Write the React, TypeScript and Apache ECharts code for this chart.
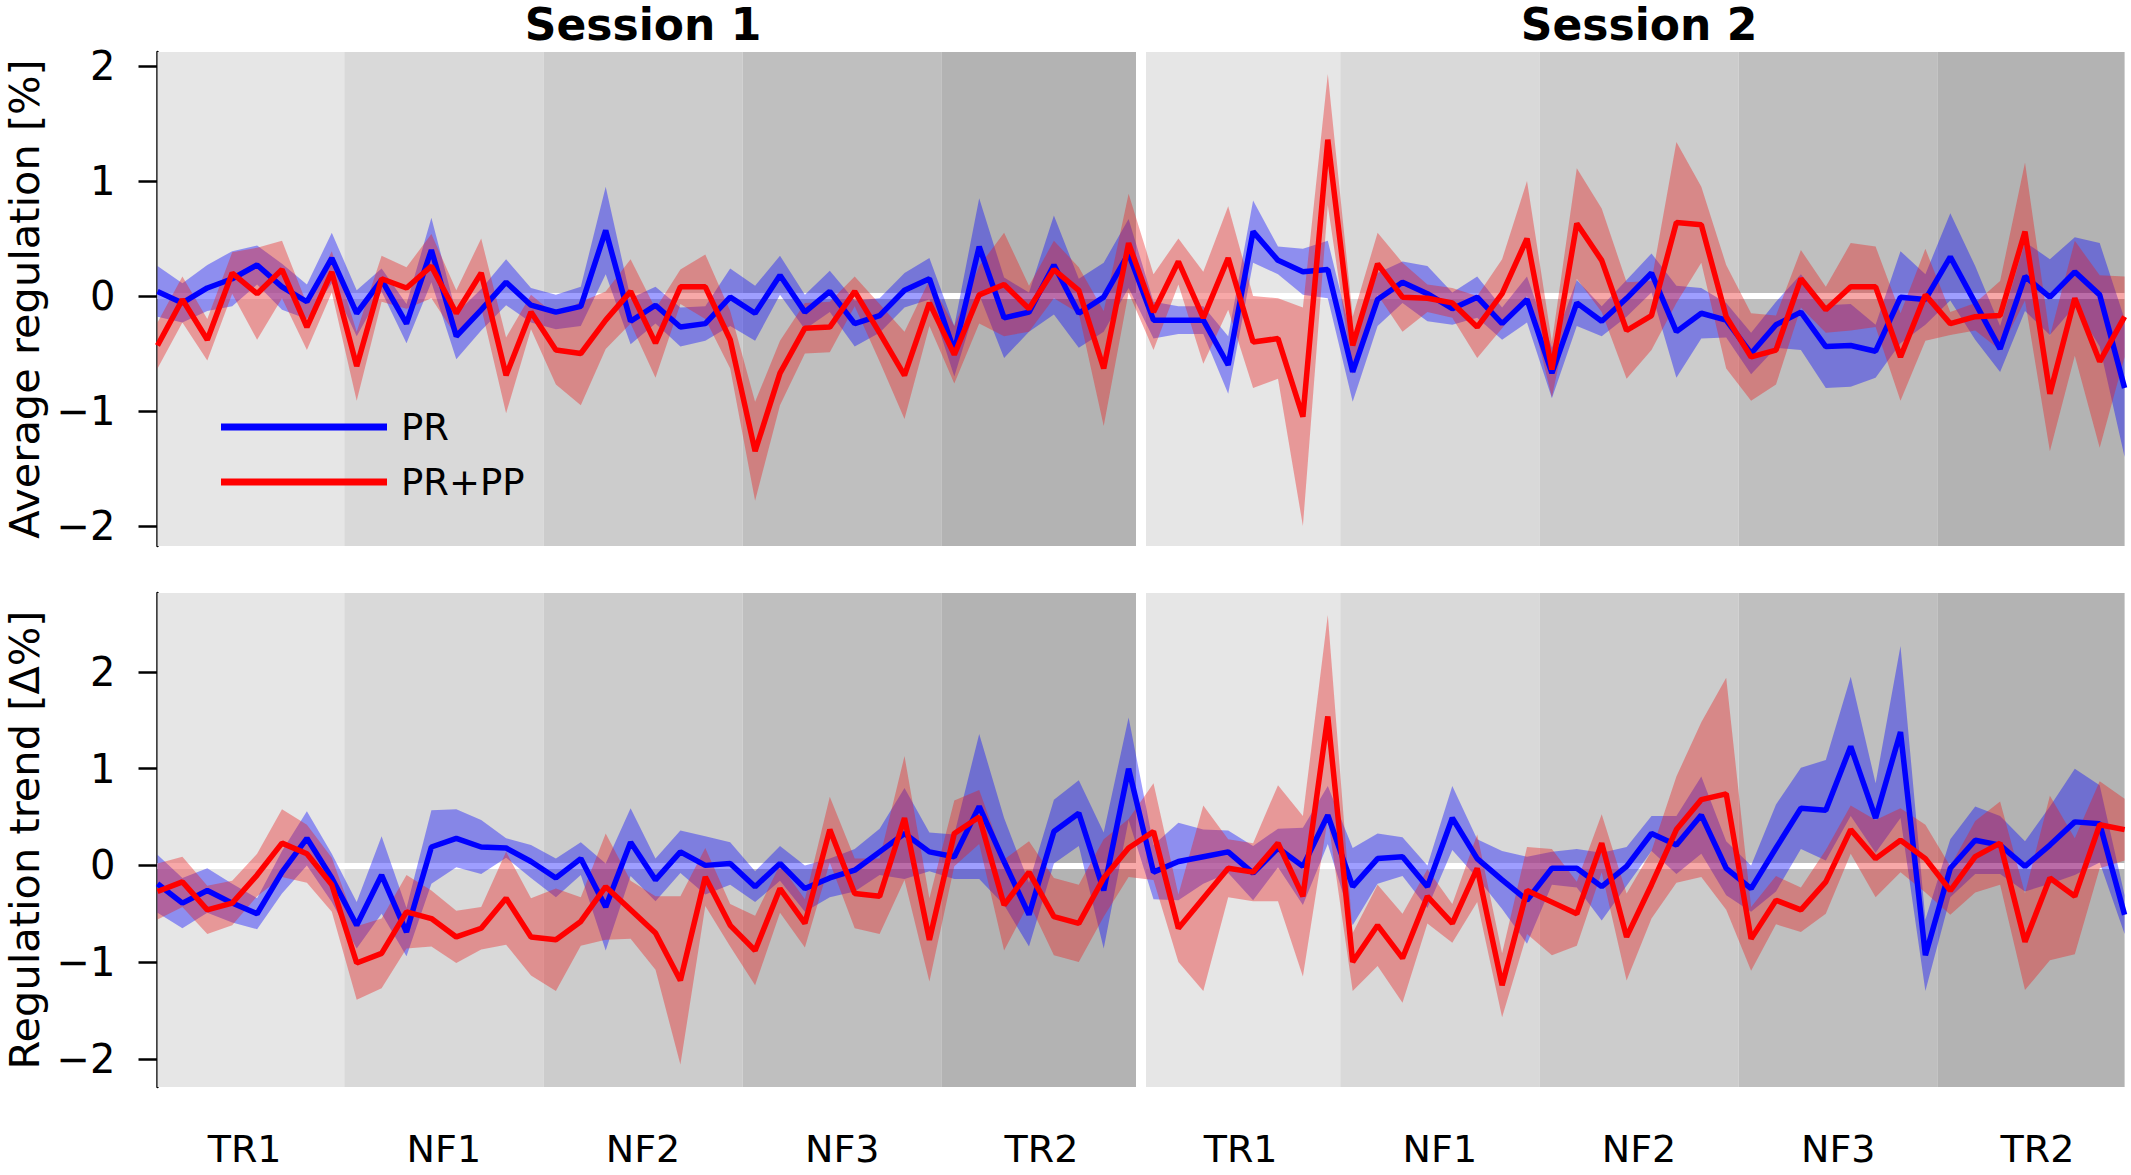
import React, { useEffect, useRef } from 'react';
import * as echarts from 'echarts';

// ---------- data ----------
const blockLabels = ['TR1', 'NF1', 'NF2', 'NF3', 'TR2', 'TR1', 'NF1', 'NF2', 'NF3', 'TR2'];
const sessionTitles = ['Session 1', 'Session 2'];
const pointsPerBlock = 8;
const yTicks = [-2, -1, 0, 1, 2];
const blockGrays = ['#e6e6e6', '#d9d9d9', '#cccccc', '#bfbfbf', '#b3b3b3'];

// Average regulation [%]
const avgPR = [
  0.04, -0.06, 0.07, 0.15, 0.27, 0.08, -0.05, 0.33, -0.15, 0.14,
  -0.24, 0.40, -0.35, -0.12, 0.12, -0.08, -0.14, -0.09, 0.57, -0.22,
  -0.08, -0.27, -0.24, -0.01, -0.15, 0.18, -0.14, 0.04, -0.24, -0.17,
  0.05, 0.15, -0.48, 0.43, -0.19, -0.14, 0.27, -0.15, -0.01, 0.37,
  -0.21, -0.21, -0.21, -0.60, 0.56, 0.31, 0.21, 0.23, -0.66, -0.03,
  0.12, 0.02, -0.11, -0.01, -0.24, -0.03, -0.67, -0.06, -0.22, -0.02,
  0.20, -0.31, -0.15, -0.21, -0.50, -0.25, -0.14, -0.44, -0.43, -0.48,
  -0.01, -0.03, 0.34, -0.06, -0.46, 0.17, -0.01, 0.21, 0.01, -0.80,
];
const avgPRErr = [
  0.22, 0.17, 0.20, 0.24, 0.17, 0.20, 0.15, 0.22, 0.20, 0.10,
  0.17, 0.28, 0.20, 0.18, 0.20, 0.15, 0.15, 0.17, 0.38, 0.20,
  0.16, 0.17, 0.15, 0.25, 0.24, 0.17, 0.15, 0.18, 0.20, 0.15,
  0.15, 0.18, 0.22, 0.42, 0.35, 0.17, 0.43, 0.30, 0.30, 0.30,
  0.16, 0.12, 0.12, 0.25, 0.27, 0.12, 0.20, 0.25, 0.26, 0.23,
  0.18, 0.24, 0.14, 0.18, 0.14, 0.20, 0.22, 0.20, 0.13, 0.16,
  0.17, 0.40, 0.22, 0.15, 0.18, 0.20, 0.33, 0.36, 0.36, 0.23,
  0.40, 0.22, 0.38, 0.32, 0.20, 0.30, 0.33, 0.30, 0.45, 0.60,
];
const avgPRPP = [
  -0.43, -0.03, -0.38, 0.20, 0.02, 0.23, -0.27, 0.21, -0.61, 0.15,
  0.07, 0.26, -0.15, 0.20, -0.69, -0.14, -0.47, -0.50, -0.21, 0.04,
  -0.41, 0.08, 0.08, -0.38, -1.35, -0.67, -0.28, -0.27, 0.04, -0.32,
  -0.69, -0.06, -0.51, 0.01, 0.10, -0.11, 0.23, 0.05, -0.63, 0.46,
  -0.14, 0.30, -0.19, 0.33, -0.40, -0.37, -1.05, 1.36, -0.43, 0.28,
  -0.01, -0.02, -0.06, -0.27, 0.02, 0.50, -0.64, 0.63, 0.31, -0.30,
  -0.17, 0.64, 0.62, -0.18, -0.53, -0.47, 0.15, -0.12, 0.08, 0.08,
  -0.53, 0.01, -0.24, -0.18, -0.17, 0.56, -0.85, -0.02, -0.57, -0.18,
];
const avgPRPPErr = [
  0.20, 0.20, 0.18, 0.18, 0.40, 0.25, 0.20, 0.18, 0.30, 0.20,
  0.18, 0.28, 0.20, 0.30, 0.33, 0.15, 0.30, 0.45, 0.25, 0.28,
  0.30, 0.15, 0.28, 0.25, 0.43, 0.28, 0.22, 0.22, 0.13, 0.25,
  0.38, 0.20, 0.25, 0.25, 0.45, 0.20, 0.25, 0.20, 0.50, 0.43,
  0.33, 0.20, 0.40, 0.45, 0.40, 0.35, 0.95, 0.57, 0.25, 0.27,
  0.30, 0.12, 0.13, 0.27, 0.30, 0.50, 0.24, 0.48, 0.45, 0.42,
  0.30, 0.70, 0.33, 0.45, 0.38, 0.30, 0.25, 0.20, 0.38, 0.35,
  0.38, 0.40, 0.10, 0.12, 0.30, 0.60, 0.50, 0.50, 0.75, 0.35,
];

// Regulation trend [Δ%]
const trendPR = [
  -0.19, -0.39, -0.26, -0.39, -0.50, -0.07, 0.28, -0.13, -0.62, -0.10,
  -0.69, 0.19, 0.28, 0.19, 0.18, 0.04, -0.13, 0.07, -0.43, 0.24,
  -0.15, 0.14, 0.00, 0.02, -0.22, 0.02, -0.24, -0.13, -0.05, 0.14,
  0.33, 0.14, 0.09, 0.61, 0.04, -0.51, 0.35, 0.54, -0.26, 1.00,
  -0.07, 0.04, 0.09, 0.14, -0.08, 0.18, -0.01, 0.52, -0.22, 0.07,
  0.09, -0.22, 0.49, 0.07, -0.15, -0.36, -0.03, -0.03, -0.22, -0.01,
  0.33, 0.21, 0.52, -0.03, -0.24, 0.18, 0.59, 0.57, 1.23, 0.49,
  1.38, -0.93, -0.03, 0.26, 0.21, -0.01, 0.21, 0.45, 0.43, -0.51,
];
const trendPRErr = [
  0.30, 0.26, 0.23, 0.20, 0.16, 0.22, 0.28, 0.25, 0.24, 0.40,
  0.25, 0.38, 0.30, 0.28, 0.10, 0.17, 0.20, 0.17, 0.45, 0.35,
  0.22, 0.22, 0.30, 0.22, 0.16, 0.18, 0.24, 0.20, 0.22, 0.24,
  0.47, 0.20, 0.23, 0.75, 0.45, 0.33, 0.33, 0.34, 0.60, 0.53,
  0.28, 0.40, 0.28, 0.22, 0.28, 0.20, 0.40, 0.30, 0.40, 0.26,
  0.20, 0.22, 0.33, 0.20, 0.30, 0.45, 0.17, 0.20, 0.35, 0.20,
  0.18, 0.30, 0.40, 0.28, 0.24, 0.45, 0.42, 0.52, 0.72, 0.36,
  0.89, 0.37, 0.30, 0.35, 0.30, 0.26, 0.40, 0.55, 0.40, 0.20,
];
const trendPRPP = [
  -0.27, -0.17, -0.46, -0.39, -0.10, 0.23, 0.12, -0.20, -1.01, -0.91,
  -0.48, -0.55, -0.74, -0.65, -0.34, -0.74, -0.77, -0.58, -0.22, -0.46,
  -0.70, -1.19, -0.12, -0.62, -0.88, -0.24, -0.60, 0.37, -0.29, -0.32,
  0.49, -0.77, 0.33, 0.50, -0.41, -0.07, -0.53, -0.60, -0.13, 0.18,
  0.35, -0.65, -0.34, -0.03, -0.07, 0.23, -0.32, 1.54, -1.00, -0.62,
  -0.96, -0.32, -0.60, -0.03, -1.24, -0.26, -0.38, -0.50, 0.23, -0.74,
  -0.20, 0.37, 0.68, 0.74, -0.76, -0.36, -0.46, -0.17, 0.37, 0.07,
  0.26, 0.07, -0.26, 0.09, 0.23, -0.79, -0.13, -0.32, 0.42, 0.37,
];
const trendPRPPErr = [
  0.29, 0.26, 0.25, 0.23, 0.22, 0.35, 0.30, 0.28, 0.38, 0.36,
  0.38, 0.29, 0.27, 0.22, 0.48, 0.40, 0.53, 0.25, 0.55, 0.30,
  0.38, 0.87, 0.30, 0.22, 0.36, 0.25, 0.25, 0.34, 0.36, 0.39,
  0.64, 0.43, 0.34, 0.28, 0.47, 0.32, 0.40, 0.40, 0.40, 0.30,
  0.50, 0.35, 0.96, 0.30, 0.30, 0.60, 0.83, 1.05, 0.30, 0.42,
  0.46, 0.28, 0.20, 0.35, 0.33, 0.45, 0.55, 0.33, 0.30, 0.45,
  0.35, 0.55, 0.80, 1.20, 0.33, 0.25, 0.23, 0.33, 0.25, 0.40,
  0.33, 0.35, 0.25, 0.37, 0.43, 0.50, 0.85, 0.60, 0.45, 0.32,
];

// ---------- styling ----------
const FONT = '"DejaVu Sans", "Liberation Sans", sans-serif';
const BLUE = '#0000ff';
const RED = '#ff0000';
const BLUE_FILL = 'rgba(0, 0, 255, 0.38)';
const RED_FILL = 'rgba(235, 25, 25, 0.38)';

const N = avgPR.length;
const nBlocks = blockLabels.length;
const blockCenters = blockLabels.map((_, k) => k * pointsPerBlock + (pointsPerBlock - 1) / 2);
const sessionBreak = (nBlocks / 2) * pointsPerBlock - 0.5;
const sessionCenters = sessionTitles.map((_, s) => (s + 0.5) * (N / sessionTitles.length) - 0.5);

const fmtNum = (v: number) => (v < 0 ? '\u2212' + Math.abs(v) : String(v));

// shaded error band: one polygon, upper edge forward then lower edge backward
function bandSeries(key: string, mean: number[], err: number[], fill: string, gi: number) {
  const rows = mean.map((m, i) => [i, +(m - err[i]).toFixed(3), +(m + err[i]).toFixed(3)]);
  return {
    type: 'custom',
    name: key + '-' + gi,
    xAxisIndex: gi,
    yAxisIndex: gi,
    data: rows,
    silent: true,
    clip: true,
    z: 3,
    encode: { x: 0, y: [1, 2] },
    renderItem: (params: any, api: any) => {
      if (params.dataIndex !== 0) return null;
      const pts: number[][] = [];
      for (let i = 0; i < rows.length; i++) pts.push(api.coord([rows[i][0], rows[i][2]]));
      for (let i = rows.length - 1; i >= 0; i--) pts.push(api.coord([rows[i][0], rows[i][1]]));
      return {
        type: 'polygon',
        shape: { points: pts },
        style: { fill, stroke: 'none' },
      };
    },
  };
}

function lineSeries(name: string, mean: number[], color: string, gi: number) {
  return {
    type: 'line',
    name,
    xAxisIndex: gi,
    yAxisIndex: gi,
    data: mean.map((v, i) => [i, v]),
    symbol: 'none',
    color,
    itemStyle: { color },
    lineStyle: { color, width: 5.5 },
    emphasis: { disabled: true },
    silent: true,
    z: 4,
  };
}

function backgroundSeries(gi: number) {
  const areas = blockLabels.map((_, k) => [
    {
      xAxis: Math.max(0, k * pointsPerBlock - 0.5),
      itemStyle: { color: blockGrays[k % blockGrays.length] },
    },
    { xAxis: Math.min(N - 1, (k + 1) * pointsPerBlock - 0.5) },
  ]);
  return {
    type: 'line',
    name: 'bg-' + gi,
    xAxisIndex: gi,
    yAxisIndex: gi,
    data: [[0, 0]],
    symbol: 'none',
    lineStyle: { opacity: 0 },
    silent: true,
    z: 1,
    markArea: { silent: true, z: 1, data: areas, label: { show: false } },
    markLine: {
      silent: true,
      z: 2,
      symbol: ['none', 'none'],
      label: { show: false },
      data: [
        { yAxis: 0, lineStyle: { color: '#ffffff', width: 6, type: 'solid' } },
        { xAxis: sessionBreak, lineStyle: { color: '#ffffff', width: 10, type: 'solid' } },
      ],
    },
  };
}

const yAxisBase = (gi: number, min: number, max: number, name: string) => ({
  type: 'value',
  gridIndex: gi,
  min,
  max,
  name,
  nameLocation: 'middle',
  nameGap: 110,
  nameTextStyle: { fontSize: 41.5, fontFamily: FONT, color: '#000' },
  axisLine: { show: true, lineStyle: { color: '#000', width: 2.5 } },
  axisTick: { show: true, length: 19, lineStyle: { color: '#000', width: 2.5 }, customValues: yTicks },
  axisLabel: {
    fontSize: 40,
    fontFamily: FONT,
    color: '#000',
    margin: 42,
    customValues: yTicks,
    formatter: (v: number) => fmtNum(v),
  },
  splitLine: { show: false },
});

export default function App() {
  const ref = useRef<HTMLDivElement>(null);

  useEffect(() => {
    if (!ref.current) return;
    const chart = echarts.init(ref.current, undefined, { renderer: 'svg' });
    const option: any = {
      animation: false,
      backgroundColor: '#ffffff',
      grid: [
        { left: 157.5, right: 6.4, top: 52, height: 494, outerBoundsMode: 'none' },
        { left: 157.5, right: 6.4, top: 593, height: 494, outerBoundsMode: 'none' },
      ],
      xAxis: [
        {
          type: 'value',
          gridIndex: 0,
          min: 0,
          max: N - 1,
          axisLine: { show: false },
          axisTick: { show: false },
          axisLabel: { show: false },
          splitLine: { show: false },
        },
        {
          type: 'value',
          gridIndex: 1,
          min: 0,
          max: N - 1,
          axisLine: { show: false },
          axisTick: {
            show: true,
            length: 19,
            lineStyle: { color: '#000', width: 2.5 },
            customValues: blockCenters,
          },
          axisLabel: {
            fontSize: 38,
            fontFamily: FONT,
            color: '#000',
            lineHeight: 34,
            margin: 45,
            customValues: blockCenters,
            formatter: (v: number) => {
              const k = Math.round((v - (pointsPerBlock - 1) / 2) / pointsPerBlock);
              return blockLabels[k] ?? '';
            },
          },
          splitLine: { show: false },
        },
      ],
      yAxis: [
        yAxisBase(0, -2.174, 2.122, 'Average regulation [%]'),
        yAxisBase(1, -2.292, 2.817, 'Regulation trend [\u0394%]'),
      ],
      legend: {
        orient: 'vertical',
        left: 221,
        top: 407,
        padding: 0,
        itemWidth: 166,
        itemHeight: 7,
        itemGap: 15,
        selectedMode: false,
        textStyle: { fontSize: 37, fontFamily: FONT, color: '#000', lineHeight: 40, padding: [0, 0, 0, 9] },
        data: [
          { name: 'PR', icon: 'rect', itemStyle: { color: BLUE } },
          { name: 'PR+PP', icon: 'rect', itemStyle: { color: RED } },
        ],
      },
      series: [
        backgroundSeries(0),
        backgroundSeries(1),
        bandSeries('avgPR', avgPR, avgPRErr, BLUE_FILL, 0),
        bandSeries('avgPRPP', avgPRPP, avgPRPPErr, RED_FILL, 0),
        bandSeries('trendPR', trendPR, trendPRErr, BLUE_FILL, 1),
        bandSeries('trendPRPP', trendPRPP, trendPRPPErr, RED_FILL, 1),
        lineSeries('PR', avgPR, BLUE, 0),
        lineSeries('PR+PP', avgPRPP, RED, 0),
        lineSeries('PR', trendPR, BLUE, 1),
        lineSeries('PR+PP', trendPRPP, RED, 1),
      ],
    };
    chart.setOption(option);

    // session titles centred over each session, positioned through the x scale
    const titleX = sessionCenters.map((c) => chart.convertToPixel({ xAxisIndex: 0 }, c) as number);
    chart.setOption({
      graphic: sessionTitles.map((t, s) => ({
        type: 'text',
        x: titleX[s],
        y: 24,
        silent: true,
        style: {
          text: t,
          fontSize: 44,
          lineHeight: 40,
          fontWeight: 'bold',
          fontFamily: FONT,
          fill: '#000',
          align: 'center',
          verticalAlign: 'middle',
        },
      })),
    });
    return () => chart.dispose();
  }, []);

  return (
    <div
      ref={ref}
      style={{ position: 'fixed', left: 0, top: 0, width: 2131, height: 1175, background: '#fff' }}
    />
  );
}
